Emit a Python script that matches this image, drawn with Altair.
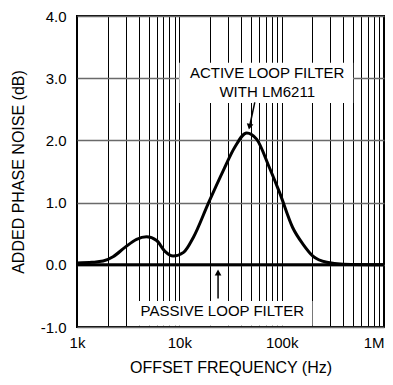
import altair as alt
import pandas as pd

# ---- data ----
active_freq = [1000, 1400, 1800, 2250, 2940, 3820, 4780, 6000, 7200, 8700, 11000, 13700,
               19100, 26800, 34800, 45500, 56900, 76000, 95500, 128000, 162000, 202000,
               276000, 400000, 1000000]
active_db = [0.03, 0.04, 0.06, 0.13, 0.28, 0.41, 0.45, 0.39, 0.22, 0.14, 0.20, 0.44,
             0.98, 1.51, 1.89, 2.12, 2.02, 1.56, 1.16, 0.60, 0.33, 0.14,
             0.04, 0.01, 0.0]
passive_freq = [1000, 1000000]
passive_db = [0.0, 0.0]

x_label_values = [1000, 10000, 100000, 1000000]
x_label_texts = ["1k", "10k", "100k", "1M"]
x_grid_values = [m * 10 ** e for e in (3, 4, 5) for m in range(1, 10)] + [1000000]
y_tick_values = [-1, 0, 1, 2, 3, 4]

ann_text = ["ACTIVE LOOP FILTER", "WITH LM6211", "PASSIVE LOOP FILTER"]
ann_freq = [72200, 72200, 26300]
ann_db = [3.09, 2.78, -0.735]

box_f1 = [10000, 3520]
box_f2 = [500000, 200000]
box_d1 = [2.6, -0.58]
box_d2 = [3.25, -0.98]

arrow_f1 = [54600, 23900]
arrow_d1 = [2.61, -0.54]
arrow_f2 = [48500, 23900]
arrow_d2 = [2.22, -0.124]
arrow_shape = ["triangle-down", "triangle-up"]
arrow_angle = [12, 0]

FONT = "Arial, Liberation Sans"

lines = pd.DataFrame(
    {"f": active_freq + passive_freq,
     "v": active_db + passive_db,
     "s": ["active"] * len(active_freq) + ["passive"] * len(passive_freq)}
)
ann = pd.DataFrame({"f": ann_freq, "v": ann_db, "t": ann_text})
boxes = pd.DataFrame({"f": box_f1, "f2": box_f2, "v": box_d1, "v2": box_d2})
arrows = pd.DataFrame({"f": arrow_f1, "v": arrow_d1, "f2": arrow_f2, "v2": arrow_d2,
                       "shape": arrow_shape, "angle": arrow_angle})

label_expr = " : ".join(
    f"datum.value == {v} ? '{t}'" for v, t in zip(x_label_values, x_label_texts)
) + " : ''"

x_scale = alt.Scale(type="log", domain=[1000, 1000000], nice=False)
y_scale = alt.Scale(domain=[-1, 4], nice=False, zero=False)

x_axis = alt.Axis(
    title="OFFSET FREQUENCY (Hz)", values=x_grid_values, labelExpr=label_expr,
    grid=True, gridColor="black", gridWidth=1, gridOpacity=1,
    ticks=False, domain=False, labelPadding=8, titlePadding=9,
    labelOverlap=False, labelFlush=False, labelFont=FONT, titleFont=FONT,
    labelAlign={"condition": {"test": "datum.value >= 1000000", "value": "right"},
                "value": "center"},
    labelFontSize=15, titleFontSize=16, titleFontWeight="normal",
    labelColor="black", titleColor="black",
)
y_axis = alt.Axis(
    title="ADDED PHASE NOISE (dB)", values=y_tick_values,
    labelExpr="replace(format(datum.value, '.1f'), '\u2212', '-')",
    grid=True, gridColor="#6a6a6a", gridWidth=1.6, gridOpacity=1,
    ticks=False, domain=False, labelPadding=11, titlePadding=14,
    labelFont=FONT, titleFont=FONT, labelFontSize=15, titleFontSize=16,
    titleFontWeight="normal", labelColor="black", titleColor="black",
)


def X(field):
    return alt.X(field, type="quantitative", scale=x_scale, axis=x_axis)


def Y(field):
    return alt.Y(field, type="quantitative", scale=y_scale, axis=y_axis)


line_layer = alt.Chart(lines).mark_line(
    color="black", strokeWidth=3, interpolate="monotone"
).encode(x=X("f"), y=Y("v"), detail="s:N")

box_layer = alt.Chart(boxes).mark_rect(color="white").encode(
    x=X("f"), x2="f2", y=Y("v"), y2="v2"
)

text_layer = alt.Chart(ann).mark_text(
    font=FONT, fontSize=15, color="black", baseline="middle", align="center"
).encode(x=X("f"), y=Y("v"), text="t:N")

arrow_rule = alt.Chart(arrows).mark_rule(color="black", strokeWidth=1.5).encode(
    x=X("f"), x2="f2", y=Y("v"), y2="v2"
)
arrow_head = alt.Chart(arrows).mark_point(
    filled=True, color="black", size=45, opacity=1
).encode(
    x=X("f2"), y=Y("v2"),
    shape=alt.Shape("shape:N", scale=None),
    angle=alt.Angle("angle:Q", scale=None),
)

chart = alt.layer(box_layer, line_layer, text_layer, arrow_rule, arrow_head).properties(
    width=307, height=311,
    autosize=alt.AutoSizeParams(type="none"),
    padding={"left": 69, "top": 8, "right": 1, "bottom": 54},
).configure_view(stroke="black", strokeWidth=2)

chart.save("out.html", embed_options={"renderer": "svg", "actions": False})
